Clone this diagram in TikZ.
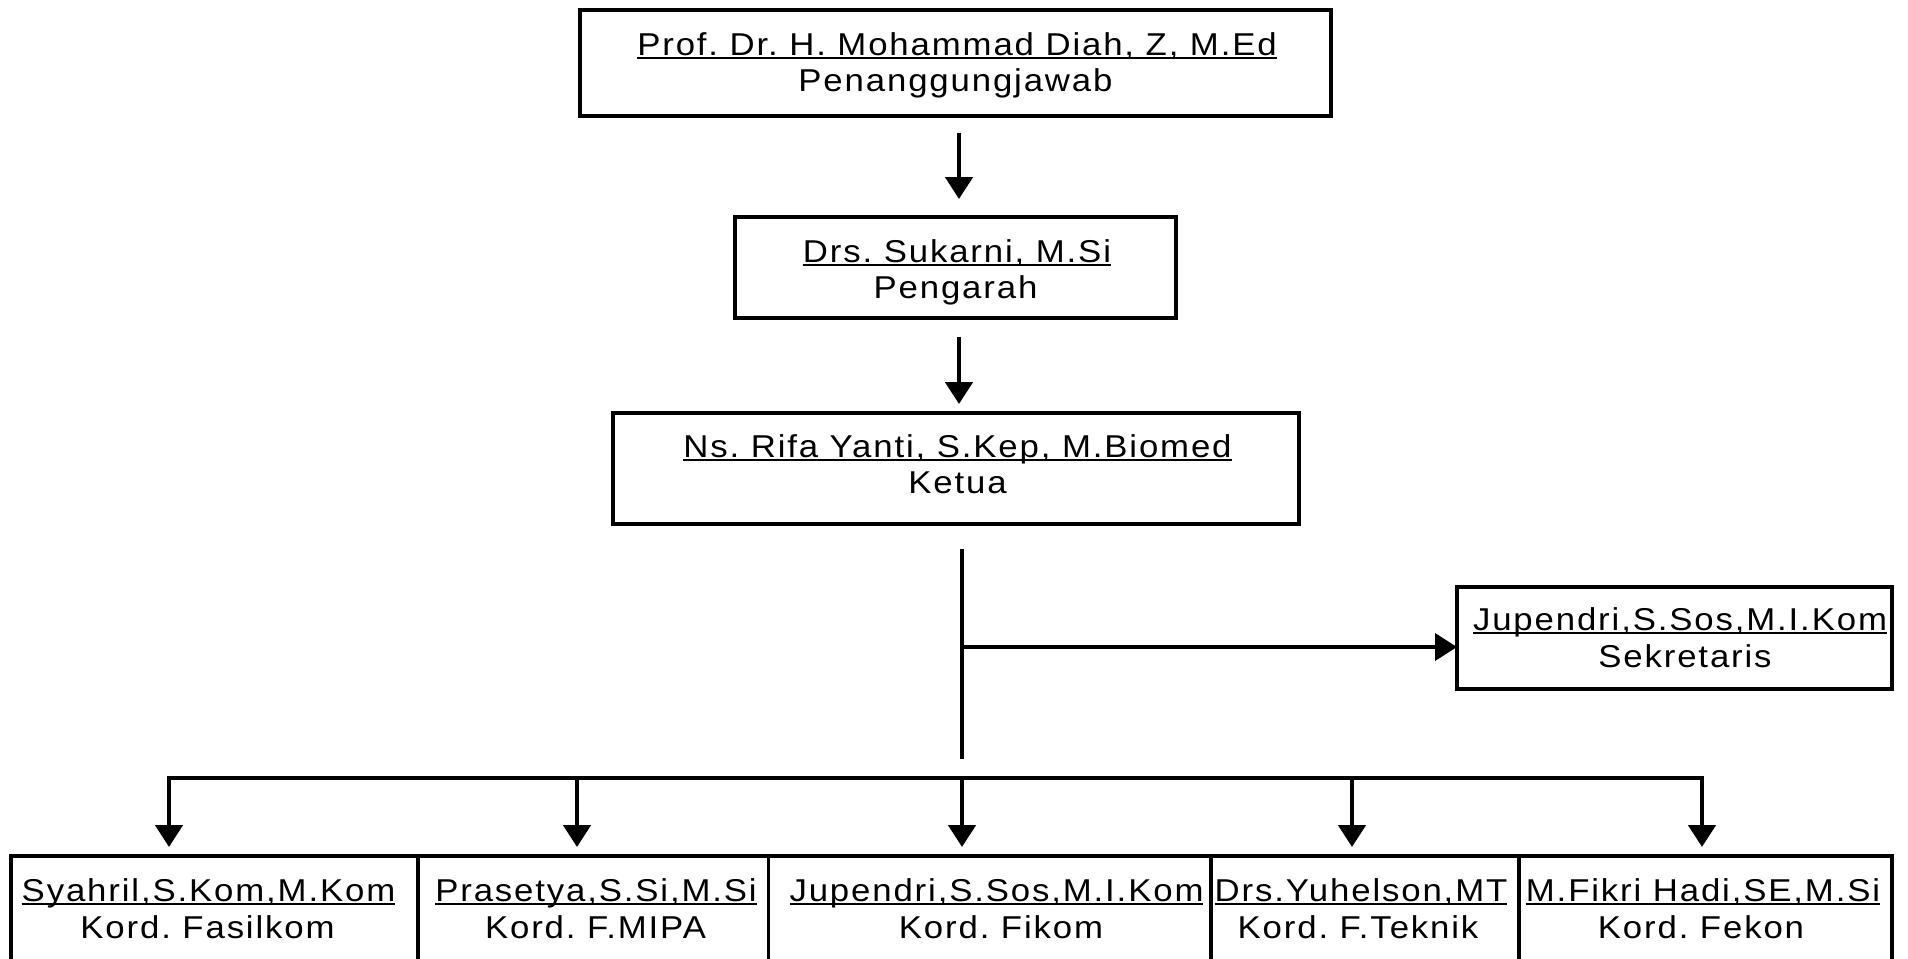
\documentclass[tikz,border=0pt]{standalone}
\usepackage{fontspec}
\setmainfont{Liberation Sans}[FakeStretch=1.1,LetterSpace=5.9]
\usetikzlibrary{arrows.meta}
\frenchspacing
\newsavebox\ulbox
\newcommand\ulx[1]{\sbox\ulbox{#1}\rlap{\vrule height -1.1pt depth 2.2pt width \wd\ulbox}\usebox\ulbox}
\begin{document}
\begin{tikzpicture}[x=0.5pt,y=-0.5pt,
  box/.style={draw, line width=1.8pt, inner sep=0pt, outer sep=0pt},
  lbl/.style={inner sep=0pt, anchor=base, font=\fontsize{15.8pt}{18pt}\selectfont},
  tip/.style={-{Triangle[length=11pt,width=13.5pt]}},
  arr/.style={line width=2.4pt, tip},
  branch/.style={line width=1.9pt, tip},
  thinline/.style={line width=1.6pt},
  barline/.style={line width=2pt, line cap=rect}]
\useasboundingbox (0,0) rectangle (1908,959);
\fill[white] (0,0) rectangle (1908,959);
\clip (0,0) rectangle (1908,959);

% boxes
\node[box, minimum width=375.5pt, minimum height=53pt] (top) at (955.5,63) {};
\node[box, minimum width=220.5pt, minimum height=50.5pt] (peng) at (955.5,267.5) {};
\node[box, minimum width=343pt, minimum height=55.5pt] (ketua) at (956,468.5) {};
\node[box, minimum width=217.5pt, minimum height=51pt] (sek) at (1674.5,638) {};
\node[box, minimum width=203.5pt, minimum height=55pt] (b1) at (214.5,911) {};
\node[box, minimum width=175.25pt, minimum height=55pt] (b2) at (593.25,911) {};
\node[box, minimum width=221.25pt, minimum height=55pt] (b3) at (989.75,911) {};
\node[box, minimum width=154pt, minimum height=55pt] (b4) at (1365,911) {};
\node[box, minimum width=186.5pt, minimum height=55pt] (b5) at (1705.5,911) {};

% texts
\node[lbl] (topn) at (957,55) {\ulx{Prof. Dr. H. Mohammad Diah, Z, M.Ed}};
\node[lbl] (topr) at (955.5,91) {Penanggungjawab};
\node[lbl] (pengn) at (957,262) {\ulx{Drs. Sukarni, M.Si}};
\node[lbl] (pengr) at (955.5,298) {Pengarah};
\node[lbl] (ketn) at (957.5,457) {\ulx{Ns. Rifa Yanti, S.Kep, M.Biomed}};
\node[lbl] (ketr) at (957.5,493) {Ketua};
\node[lbl] (sekn) at (1680,630) {\ulx{Jupendri,S.Sos,M.I.Kom}};
\node[lbl] (sekr) at (1685,667) {Sekretaris};
\node[lbl] (b1n) at (208.5,901) {\ulx{Syahril,S.Kom,M.Kom}};
\node[lbl] (b1r) at (207.5,938) {Kord. Fasilkom};
\node[lbl] (b2n) at (596,901) {\ulx{Prasetya,S.Si,M.Si}};
\node[lbl] (b2r) at (595.5,938) {Kord. F.MIPA};
\node[lbl] (b3n) at (996.5,901) {\ulx{Jupendri,S.Sos,M.I.Kom}};
\node[lbl] (b3r) at (1001,938) {Kord. Fikom};
\node[lbl] (b4n) at (1361,901) {\ulx{Drs.Yuhelson,MT}};
\node[lbl] (b4r) at (1358,938) {Kord. F.Teknik};
\node[lbl] (b5n) at (1703,901) {\ulx{M.Fikri Hadi,SE,M.Si}};
\node[lbl] (b5r) at (1701,938) {Kord. Fekon};

% connectors
\coordinate (ax) at (959,0);
\draw[arr, shorten <=8.5pt, shorten >=9pt] (top.south -| ax) -- (peng.north -| ax);
\draw[arr, shorten <=9.5pt, shorten >=4.5pt] (peng.south -| ax) -- (ketua.north -| ax);

\coordinate (spine) at (962,647);
\coordinate (spineend) at (962,759);
\draw[thinline, shorten <=12.5pt] (ketua.south -| spine) -- (spineend);
\draw[branch] (spine) -- (spine -| sek.west);

\coordinate (d1) at (169,778);
\coordinate (d2) at (577,778);
\coordinate (d3) at (962,778);
\coordinate (d4) at (1352,778);
\coordinate (d5) at (1702,778);
\draw[barline] (d1) -- (d5);
\foreach \i in {1,...,5}
  \draw[arr, shorten >=4.5pt] (d\i) -- (d\i |- b\i.north);
\end{tikzpicture}
\end{document}
